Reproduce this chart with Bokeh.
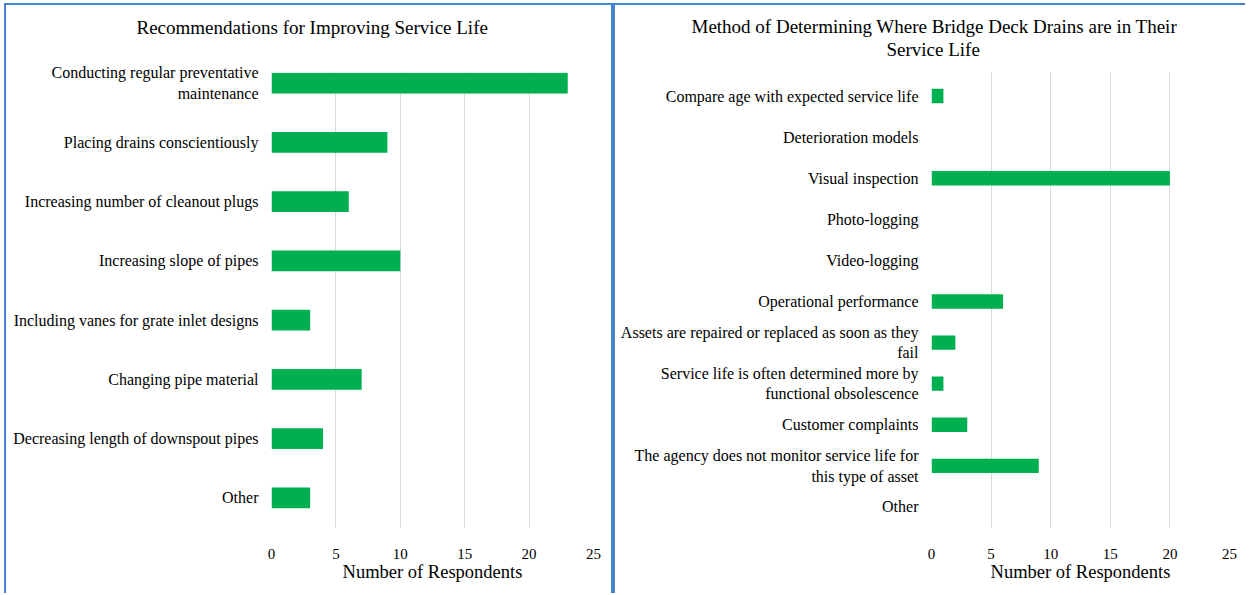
from bokeh.plotting import figure
from bokeh.layouts import row
from bokeh.models import Range1d, FixedTicker, Title, ColumnDataSource
from bokeh.embed import file_html
from bokeh.resources import INLINE

# ---- data ----
left_title = "Recommendations for Improving Service Life"
left_categories = [
    "Conducting regular preventative\nmaintenance",
    "Placing drains conscientiously",
    "Increasing number of cleanout plugs",
    "Increasing slope of pipes",
    "Including vanes for grate inlet designs",
    "Changing pipe material",
    "Decreasing length of downspout pipes",
    "Other",
]
left_values = [23, 9, 6, 10, 3, 7, 4, 3]

right_title_line1 = "Method of Determining Where Bridge Deck Drains are in Their"
right_title_line2 = "Service Life"
right_categories = [
    "Compare age with expected service life",
    "Deterioration models",
    "Visual inspection",
    "Photo-logging",
    "Video-logging",
    "Operational performance",
    "Assets are repaired or replaced as soon as they\nfail",
    "Service life is often determined more by\nfunctional obsolescence",
    "Customer complaints",
    "The agency does not monitor service life for\nthis type of asset",
    "Other",
]
right_values = [1, 0, 20, 0, 0, 6, 2, 1, 3, 9, 0]

x_ticks = [0, 5, 10, 15, 20, 25]
x_axis_label = "Number of Respondents"

FONT = "Liberation Serif"
GREEN = "#00B050"
BLUE = "#4485CF"


def make_title(text, offset, standoff, valign="bottom", size="19px"):
    return Title(text=text, align="left", offset=offset, standoff=standoff,
                 vertical_align=valign,
                 text_font=FONT, text_font_size=size, text_font_style="normal",
                 text_color="#000000")


def make_panel(titles, cats, vals, width, height, mbl, mbr, mbt, mbb,
               y_top, grid_top, styles):
    pos = list(range(len(cats)))
    src = ColumnDataSource(dict(pos=pos, val=vals))
    p = figure(
        width=width, height=height,
        y_range=Range1d(len(cats) - 0.5, y_top),
        x_range=Range1d(0, 25),
        output_backend="svg", toolbar_location=None,
        min_border_left=mbl, min_border_right=mbr,
        min_border_top=mbt, min_border_bottom=mbb,
    )
    p.styles = styles
    for t in titles:
        p.add_layout(t, "above")
    p.hbar(y="pos", right="val", left=0, height=0.35, source=src,
           fill_color=GREEN, line_color=None)

    p.outline_line_color = None
    p.background_fill_color = "white"
    p.border_fill_color = "white"

    p.xaxis.ticker = FixedTicker(ticks=x_ticks)
    p.xaxis.axis_line_color = None
    p.xaxis.major_tick_line_color = None
    p.xaxis.minor_tick_line_color = None
    p.xaxis.major_tick_out = 0
    p.xaxis.major_tick_in = 0
    p.xaxis.major_label_text_font = FONT
    p.xaxis.major_label_text_font_size = "15px"
    p.xaxis.major_label_text_color = "#000000"
    p.xaxis.major_label_standoff = 21
    p.xaxis.axis_label = x_axis_label
    p.xaxis.axis_label_text_font = FONT
    p.xaxis.axis_label_text_font_size = "18.5px"
    p.xaxis.axis_label_text_font_style = "normal"
    p.xaxis.axis_label_text_color = "#000000"
    p.xaxis.axis_label_standoff = 0

    p.yaxis.ticker = FixedTicker(ticks=pos)
    p.yaxis.major_label_overrides = {i: c for i, c in zip(pos, cats)}
    p.yaxis.axis_line_color = None
    p.yaxis.major_tick_line_color = None
    p.yaxis.minor_tick_line_color = None
    p.yaxis.major_tick_out = 0
    p.yaxis.major_tick_in = 0
    p.yaxis.major_label_text_font = FONT
    p.yaxis.major_label_text_font_size = "16px"
    p.yaxis.major_label_text_color = "#000000"
    p.yaxis.major_label_standoff = 13

    p.xgrid.ticker = FixedTicker(ticks=x_ticks)
    p.xgrid.grid_line_color = "#d9d9d9"
    p.xgrid.grid_line_width = 1
    p.xgrid.bounds = (grid_top, len(cats) - 0.5)
    p.ygrid.grid_line_color = None
    return p


p1 = make_panel([make_title(" ", 0, 12, "top"),
                 make_title(left_title, -135, 0)],
                left_categories, left_values,
                609, 590, 265, 22, 67, 68, -0.179, -0.179,
                {"border-left": f"2px solid {BLUE}", "border-top": f"2px solid {BLUE}",
                 "border-right": f"2px solid {BLUE}",
                 "margin-left": "4px", "margin-top": "3px"})
p2 = make_panel([make_title(" ", 0, 10, "top", "1px"),
                 make_title(right_title_line2, -45, 0),
                 make_title(right_title_line1, -240, 0)],
                right_categories, right_values,
                632, 590, 316, 18, 67, 68, -0.573, -0.5,
                {"border-left": f"2px solid {BLUE}", "border-top": f"2px solid {BLUE}",
                 "margin-top": "3px"})

layout = row(p1, p2)
open("out.html", "w").write(file_html(layout, INLINE))
